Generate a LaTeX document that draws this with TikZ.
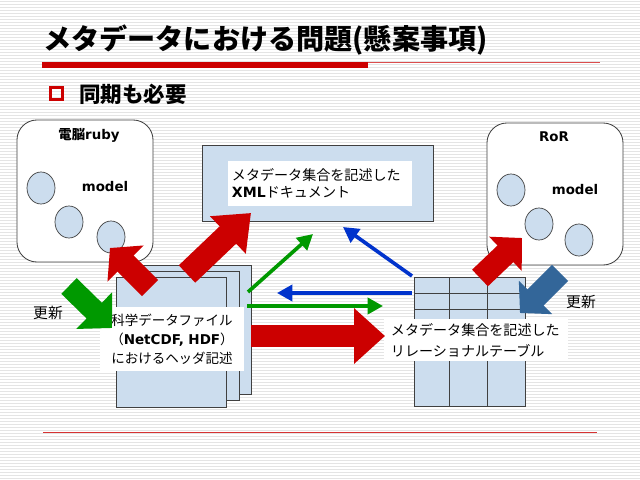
\documentclass[tikz,border=0pt]{standalone}
\usepackage{fontspec}
\setmainfont{Noto Sans CJK JP}
\newfontfamily\latn{DejaVu Sans}
\usepackage{xcolor}
\usetikzlibrary{arrows.meta, shapes.geometric, calc}

\definecolor{lblue}{RGB}{204,221,238}
\definecolor{ared}{RGB}{204,0,0}
\definecolor{agreen}{RGB}{0,153,0}
\definecolor{ablue}{RGB}{0,51,204}
\definecolor{sblue}{RGB}{51,102,153}
\definecolor{edge}{RGB}{64,64,64}
\definecolor{stripe}{RGB}{228,228,228}

\begin{document}
\begin{tikzpicture}[
    x=0.025cm, y=-0.025cm,
    every node/.style={font=\fontsize{10}{12}\selectfont, inner sep=0pt},
    mdl/.style={rectangle, draw=edge, fill=white, rounded corners=0.5cm, line width=0.6pt,
                minimum width=3.4cm, minimum height=3.55cm},
    obj/.style={ellipse, draw=edge, fill=lblue, line width=0.5pt,
                minimum width=0.7cm, minimum height=0.8cm},
    sheet/.style={rectangle, draw=edge, fill=lblue, line width=0.5pt},
    memo/.style={rectangle, fill=white, inner xsep=0.1cm},
    lbl/.style={font=\latn\bfseries\fontsize{9.5}{11}\selectfont},
    upd/.style={font=\fontsize{10.5}{12}\selectfont},
    blk/.style n args={4}{draw=#1, line width=#2, -{Triangle[width=#3, length=#4]}},
    arr/.style={line width=2.6pt, -{Triangle[width=11.5pt, length=11pt]}},
  ]
    \useasboundingbox (0,0) rectangle (640,480);
    \fill[white] (0,0) rectangle (640,480);
    \foreach \sy in {1,4,...,479}\draw[stripe, line width=0.6pt] (0,\sy) -- (640,\sy);
    % heading
    \node[anchor=west, font=\bfseries\fontsize{20}{24}\selectfont] (ttl) at (43,40)
      {メタデータにおける問題(懸案事項)};
    \fill[ared] (42,62) rectangle (368,68);
    \draw[ared!70, line width=0.7pt] (368,62) -- (600,62);
    \draw[ared!80, line width=0.7pt] (43,432) -- (597,432);
    \node[draw=ared, line width=1.6pt, minimum size=0.3cm] (bul) at (56.5,93.5) {};
    \node[anchor=west, font=\bfseries\fontsize{15.3}{18}\selectfont] (sub) at (79,94) {同期も必要};
    % models
    \node[mdl] (ruby) at (85,191) {};
    \node[mdl] (ror) at (555,194) {};
    \node[lbl] (rubyname) at (89,135) {{\rmfamily 電脳}ruby};
    \node[lbl] (rorname) at (554,137) {RoR};
    \node[lbl] (rubymdl) at (105,187) {model};
    \node[lbl] (rormdl) at (575,190) {model};
    \foreach \k/\px/\py in {1/41/188, 2/69/222, 3/111/237}{
      \node[obj] (ra\k) at (\px,\py) {};}
    \foreach \k/\px/\py in {1/511/190, 2/539/224, 3/579/240}{
      \node[obj] (rb\k) at (\px,\py) {};}
    % XML document
    \node[sheet, minimum width=5.775cm, minimum height=1.9cm] (xmldoc) at (317.5,183) {};
    \node[memo, text width=4.4cm, minimum height=1.125cm, align=left] (xmltxt) at (320,183.5)
      {メタデータ集合を記述した\\{\latn\bfseries XML}ドキュメント};
    % header files
    \node[sheet, minimum width=2.75cm, minimum height=3.225cm] (hdr3) at (196,329.5) {};
    \node[sheet, minimum width=2.775cm, minimum height=3.225cm] (hdr2) at (183.5,335.5) {};
    \node[sheet, minimum width=2.75cm, minimum height=3.25cm] (hdr) at (171,342) {};
    \node[memo, inner xsep=0pt, text width=3.6cm, minimum height=1.6cm, align=center,
          font=\fontsize{9.6}{13.5}\selectfont] (hdrtxt) at (172,339)
      {科学データファイル\\（{\latn\bfseries NetCDF, HDF}）\\におけるヘッダ記述};
    % relational table
    \node[sheet, minimum width=2.775cm, minimum height=3.225cm] (rdb) at (469.5,341.5) {};
    \foreach \cx in {449,487}\draw[edge, line width=0.5pt] (\cx,277) -- (\cx,406);
    \foreach \ry in {293,309}\draw[edge, line width=0.5pt] (414,\ry) -- (525,\ry);
    \node[memo, inner xsep=0.175cm, text width=4.25cm, minimum height=1.05cm, align=left,
          font=\fontsize{10}{15}\selectfont] (rdbtxt) at (476,340)
      {メタデータ集合を記述した\\リレーショナルテーブル};
    \node[upd] (upl) at (48,313) {更新};
    \node[upd] (upr) at (581,302) {更新};
    % arrow ends
    \coordinate (g1s) at (248,292); \coordinate (g1e) at (313,234);
    \coordinate (b1s) at (412,276); \coordinate (b1e) at (343,227);
    \coordinate (b2s) at (412,293); \coordinate (b2e) at (277,293);
    \coordinate (g2s) at (247,306); \coordinate (g2e) at (383,306);
    \coordinate (r1s) at (150,288); \coordinate (r1e) at (110,248);
    \coordinate (r2s) at (187,274); \coordinate (r2e) at (251,213);
    \coordinate (r3s) at (251,336); \coordinate (r3e) at (385,336);
    \coordinate (r4s) at (480,278); \coordinate (r4e) at (522,238);
    \coordinate (bbs) at (560,273); \coordinate (bbe) at (520,313);
    \coordinate (ggs) at (69,286);  \coordinate (gge) at (112,328);
    \draw[arr, agreen] (g1s) -- (g1e);
    \draw[arr, ablue] (b1s) -- (b1e);
    \draw[arr, ablue] (b2s) -- (b2e);
    \draw[arr, agreen] (g2s) -- (g2e);
    \draw[blk={ared}{16.3pt}{35.4pt}{15.6pt}] (r1s) -- (r1e);
    \draw[blk={ared}{17pt}{35.4pt}{22.7pt}] (r2s) -- (r2e);
    \draw[blk={ared}{16.3pt}{38.3pt}{22pt}] (r3s) -- (r3e);
    \draw[blk={ared}{16.3pt}{32.6pt}{16.3pt}] (r4s) -- (r4e);
    \draw[blk={sblue}{16.3pt}{32.6pt}{15.6pt}] (bbs) -- (bbe);
    \draw[blk={agreen}{15.6pt}{35.4pt}{17.7pt}] (ggs) -- (gge);
  \end{tikzpicture}
\end{document}
